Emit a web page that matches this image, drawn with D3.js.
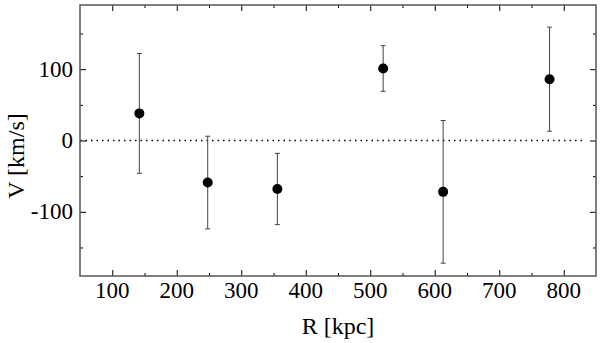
<!DOCTYPE html>
<html>
<head>
<meta charset="utf-8">
<script src="https://cdn.jsdelivr.net/npm/d3@7"></script>
<style>
  body { margin: 0; background: #fff; }
</style>
</head>
<body>
<svg id="chart" width="600" height="343"></svg>
<script>
// distances and velocities
const radius = [142, 248, 356, 520, 613, 778];
const velocity = [38, -59, -68, 101, -72, 86];
const velErr = [84, 65, 50, 32, 100, 73];

const xMajor = [100, 200, 300, 400, 500, 600, 700, 800];
const xMinor = [150, 250, 350, 450, 550, 650, 750];
const yMajor = [-100, 0, 100];
const yMinor = [-150, -50, 50, 150];

const margin = { left: 80, right: 4, top: 5, bottom: 67 };
const width = 600, height = 343;
const serif = "Liberation Serif";

const svg = d3.select("#chart")
  .attr("font-family", serif);

const x = d3.scaleLinear().domain([50, 850]).range([margin.left, width - margin.right]);
const y = d3.scaleLinear().domain([-190, 190]).range([height - margin.bottom, margin.top]);

const x0 = x.range()[0], x1 = x.range()[1];
const y0 = y.range()[0], y1 = y.range()[1];

// zero line
svg.append("line")
  .attr("x1", x0).attr("x2", x1 - 10)
  .attr("y1", y(0)).attr("y2", y(0))
  .attr("stroke", "#000")
  .attr("stroke-width", 1.5)
  .attr("stroke-dasharray", "1.5,4");

// axes - ticks point inward on all four sides
const tickLen = 6, minorLen = 3;
const addTicks = (g, ax, vals, len) => {
  g.call(ax.tickValues(vals).tickSize(len).tickFormat(""));
  g.select(".domain").remove();
  g.selectAll(".tick line").attr("stroke", "#000").attr("stroke-width", 1);
};

const gBottom = svg.append("g").attr("transform", `translate(0,${y0})`);
addTicks(gBottom.append("g"), d3.axisTop(x), xMajor, tickLen);
addTicks(gBottom.append("g"), d3.axisTop(x), xMinor, minorLen);

const gTop = svg.append("g").attr("transform", `translate(0,${y1})`);
addTicks(gTop.append("g"), d3.axisBottom(x), xMajor, tickLen);
addTicks(gTop.append("g"), d3.axisBottom(x), xMinor, minorLen);

const gLeft = svg.append("g").attr("transform", `translate(${x0},0)`);
addTicks(gLeft.append("g"), d3.axisRight(y), yMajor, tickLen);
addTicks(gLeft.append("g"), d3.axisRight(y), yMinor, minorLen);

const gRight = svg.append("g").attr("transform", `translate(${x1},0)`);
addTicks(gRight.append("g"), d3.axisLeft(y), yMajor, tickLen);
addTicks(gRight.append("g"), d3.axisLeft(y), yMinor, minorLen);

// tick labels
svg.append("g").selectAll("text")
  .data(xMajor)
  .join("text")
  .attr("font-family", serif)
  .attr("x", d => x(d))
  .attr("y", y0 + 22)
  .attr("text-anchor", "middle")
  .attr("font-size", 23)
  .text(d => d);

svg.append("g").selectAll("text")
  .data(yMajor)
  .join("text")
  .attr("font-family", serif)
  .attr("x", x0 - 7)
  .attr("y", d => y(d) + 7.5)
  .attr("text-anchor", "end")
  .attr("font-size", 23)
  .text(d => d);

// frame
svg.append("rect")
  .attr("x", x0).attr("y", y1)
  .attr("width", x1 - x0).attr("height", y0 - y1)
  .attr("fill", "none")
  .attr("stroke", "#555")
  .attr("stroke-width", 1.5);

// error bars
const pts = radius.map((r, i) => ({ r: r, v: velocity[i], e: velErr[i] }));
const bars = svg.append("g").attr("stroke", "#444").attr("stroke-width", 1);
bars.selectAll(".stem")
  .data(pts)
  .join("line")
  .attr("class", "stem")
  .attr("x1", d => x(d.r)).attr("x2", d => x(d.r))
  .attr("y1", d => y(d.v + d.e)).attr("y2", d => y(d.v - d.e));
bars.selectAll(".capTop")
  .data(pts)
  .join("line")
  .attr("class", "capTop")
  .attr("x1", d => x(d.r) - 2.5).attr("x2", d => x(d.r) + 2.5)
  .attr("y1", d => y(d.v + d.e)).attr("y2", d => y(d.v + d.e));
bars.selectAll(".capBot")
  .data(pts)
  .join("line")
  .attr("class", "capBot")
  .attr("x1", d => x(d.r) - 2.5).attr("x2", d => x(d.r) + 2.5)
  .attr("y1", d => y(d.v - d.e)).attr("y2", d => y(d.v - d.e));

// points
svg.append("g").selectAll("circle")
  .data(pts)
  .join("circle")
  .attr("cx", d => x(d.r))
  .attr("cy", d => y(d.v))
  .attr("r", 5)
  .attr("fill", "#000");

// axis titles
svg.append("text")
  .attr("font-family", serif)
  .attr("x", (x0 + x1) / 2)
  .attr("y", 334)
  .attr("text-anchor", "middle")
  .attr("font-size", 24)
  .text("R [kpc]");

svg.append("text")
  .attr("font-family", serif)
  .attr("transform", `translate(24,156) rotate(-90)`)
  .attr("text-anchor", "middle")
  .attr("font-size", 24)
  .text("V [km/s]");
</script>
</body>
</html>
